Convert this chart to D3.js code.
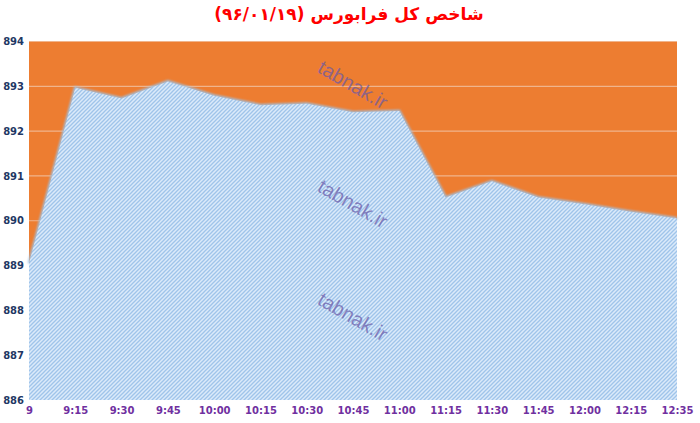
<!DOCTYPE html>
<html>
<head>
<meta charset="utf-8">
<script src="https://cdn.jsdelivr.net/npm/d3@7"></script>
<style>
html,body{margin:0;padding:0;background:#fff;}
svg{display:block;}
</style>
</head>
<body>
<svg id="chart" width="700" height="423"></svg>
<script>
const times = ["9","9:15","9:30","9:45","10:00","10:15","10:30","10:45","11:00","11:15","11:30","11:45","12:00","12:15","12:35"];
const values = [889.05, 892.97, 892.73, 893.11, 892.79, 892.58, 892.61, 892.42, 892.45, 890.52, 890.88, 890.52, 890.37, 890.2, 890.05];
const yTicks = [886, 887, 888, 889, 890, 891, 892, 893, 894];
const title = "شاخص کل فرابورس (۹۶/۰۱/۱۹)";
const watermark = "tabnak.ir";

const svg = d3.select("#chart");
const m = {left: 29, right: 23, top: 41.5, bottom: 23};
const W = 700, H = 423;
const x = d3.scalePoint().domain(times).range([m.left, W - m.right]).padding(0);
const y = d3.scaleLinear().domain([886, 894]).range([H - m.bottom, m.top]);

const defs = svg.append("defs");
const pat = defs.append("pattern").attr("id","hatch").attr("patternUnits","userSpaceOnUse")
  .attr("width",4).attr("height",4);
pat.append("rect").attr("width",4).attr("height",4).attr("fill","#dbeafa");
pat.append("path").attr("d","M-1,1 l2,-2 M0,4 l4,-4 M3,5 l2,-2")
  .attr("stroke","#9fc4ea").attr("stroke-width",1.3);

const filt = defs.append("filter").attr("id","glow").attr("x","-5%").attr("y","-5%").attr("width","110%").attr("height","110%");
filt.append("feGaussianBlur").attr("stdDeviation",1);

// plot background
svg.append("rect").attr("x",m.left).attr("y",m.top)
  .attr("width",W-m.left-m.right).attr("height",H-m.top-m.bottom)
  .attr("fill","#ed7d31");

// gridlines
svg.append("g").selectAll("line").data(yTicks.filter(d=>d>886)).join("line")
  .attr("x1",m.left).attr("x2",W-m.right)
  .attr("y1",d=>y(d)).attr("y2",d=>y(d))
  .attr("stroke","#f0b48c").attr("stroke-width",1.2);

// area
const data = times.map((t,i)=>({t, v: values[i]}));
const area = d3.area().x(d=>x(d.t)).y0(y(886)).y1(d=>y(d.v));
const line = d3.line().x(d=>x(d.t)).y(d=>y(d.v));
svg.append("path").datum(data).attr("d",line).attr("fill","none")
  .attr("stroke","#9dc3e6").attr("stroke-width",2.5).attr("filter","url(#glow)");
svg.append("path").datum(data).attr("d",area).attr("fill","url(#hatch)");

// watermarks
const wm = [[352,86],[352,205],[352,318]];
svg.append("g").selectAll("text").data(wm).join("text")
  .attr("transform",d=>`translate(${d[0]},${d[1]}) rotate(30)`)
  .attr("text-anchor","middle").attr("dominant-baseline","middle")
  .attr("font-family","Liberation Sans, Arial, sans-serif").attr("font-size",20)
  .attr("fill","#6a5aa8").attr("fill-opacity",0.72)
  .text(watermark);

// y axis
const yAxis = d3.axisLeft(y).tickValues(yTicks).tickSize(0).tickPadding(4);
const gy = svg.append("g").attr("transform",`translate(${m.left-1},0)`).call(yAxis);
gy.select(".domain").remove();
gy.selectAll("text").attr("font-family","DejaVu Sans, Verdana, sans-serif")
  .attr("font-weight","bold").attr("font-size",10).attr("fill","#1f3864");

// x axis
const xAxis = d3.axisBottom(x).tickSize(0).tickPadding(7);
const gx = svg.append("g").attr("transform",`translate(0,${H-m.bottom})`).call(xAxis);
gx.select(".domain").remove();
gx.selectAll("text").attr("font-family","DejaVu Sans, Verdana, sans-serif")
  .attr("font-weight","bold").attr("font-size",10).attr("fill","#7030a0");

// title
svg.append("text").attr("x",349).attr("y",20).attr("text-anchor","middle")
  .attr("direction","rtl")
  .attr("font-family","DejaVu Sans, Noto Sans, sans-serif").attr("font-weight","bold")
  .attr("font-size",17).attr("fill","#ff0000")
  .text(title);
</script>
</body>
</html>
